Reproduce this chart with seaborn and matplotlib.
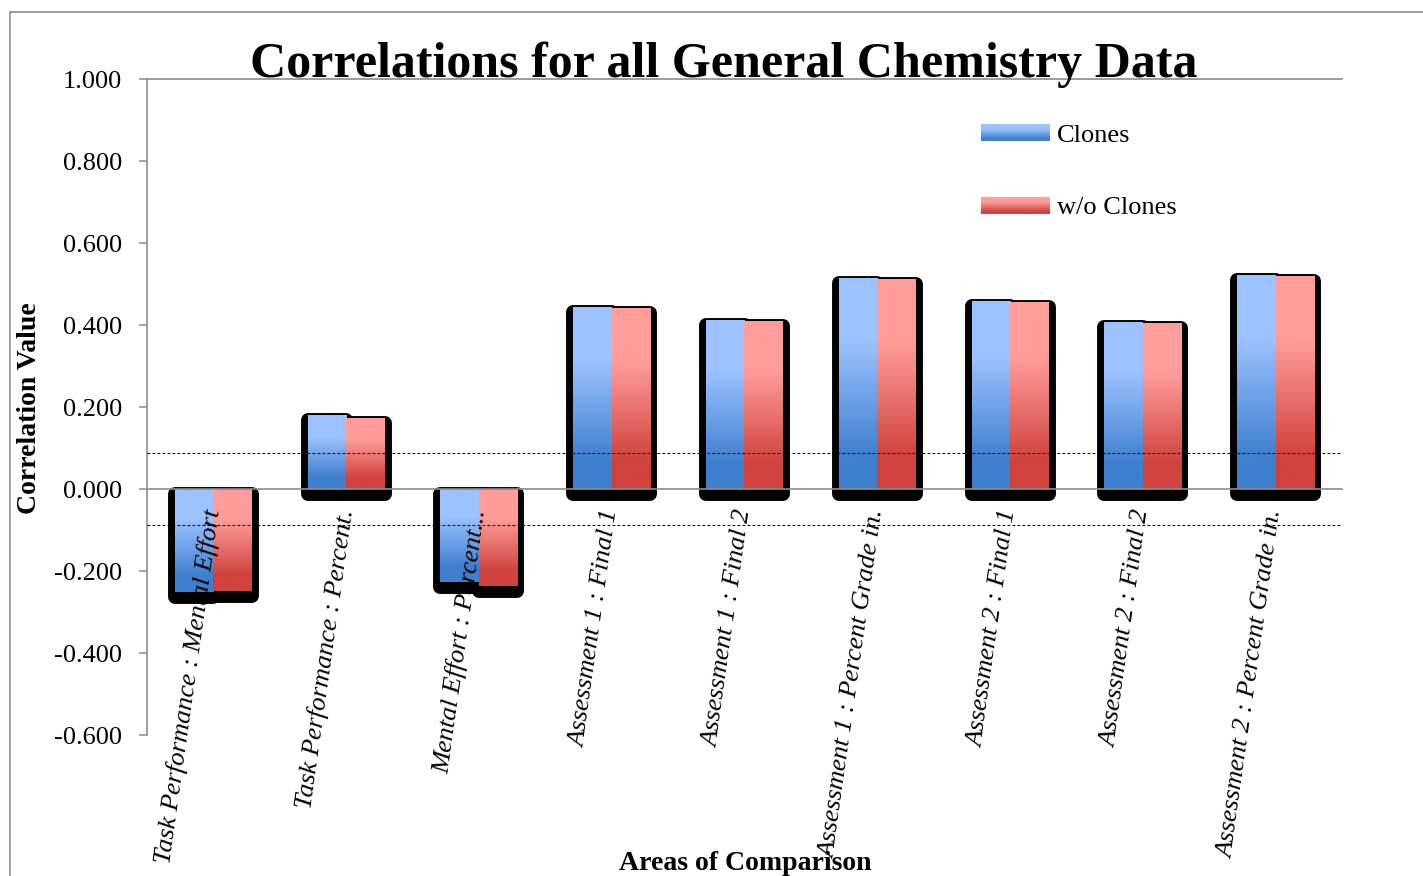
import numpy as np
import pandas as pd
import seaborn as sns
import matplotlib.pyplot as plt
from matplotlib.patches import Rectangle, Patch
from matplotlib.colors import LinearSegmentedColormap
from matplotlib.ticker import FormatStrFormatter
from matplotlib.transforms import offset_copy

# data
categories = [
    "Task Performance : Mental Effort",
    "Task Performance : Percent.",
    "Mental Effort : Percent...",
    "Assessment 1 : Final 1",
    "Assessment 1 : Final 2",
    "Assessment 1 : Percent Grade in.",
    "Assessment 2 : Final 1",
    "Assessment 2 : Final 2",
    "Assessment 2 : Percent Grade in.",
]
clones = [-0.251, 0.180, -0.228, 0.445, 0.412, 0.515, 0.459, 0.407, 0.522]
without_clones = [-0.249, 0.173, -0.236, 0.442, 0.410, 0.512, 0.457, 0.404, 0.520]
series = ["Clones", "w/o Clones"]
threshold = 0.088
yticks = [-0.6, -0.4, -0.2, 0.0, 0.2, 0.4, 0.6, 0.8, 1.0]

df = pd.DataFrame({
    "area": categories * 2,
    "series": [series[0]] * len(categories) + [series[1]] * len(categories),
    "value": clones + without_clones,
})

sns.set_theme(style="white")
plt.rcParams["font.family"] = ["Liberation Serif", "DejaVu Serif"]
plt.rcParams["axes.unicode_minus"] = False
plt.rcParams["text.color"] = "black"
plt.rcParams["xtick.color"] = "black"
plt.rcParams["ytick.color"] = "black"

W, H = 1423, 876
fig = plt.figure(figsize=(W / 100, H / 100), dpi=100)
ax = fig.add_axes([147 / W, 1 - 735 / H, (1342 - 147) / W, (735 - 79) / H])

gradients = {
    "Clones": ("#3e7fce", "#9cc2ff"),
    "w/o Clones": ("#d0423d", "#ff9d9b"),
}
palette = {"Clones": "#6a9fe8", "w/o Clones": "#e87470"}
cmaps = {
    name: LinearSegmentedColormap.from_list(
        name, [(0, dark), (0.15, dark), (0.7, light), (1, light)])
    for name, (dark, light) in gradients.items()
}

sns.barplot(data=df, x="area", y="value", hue="series", palette=palette,
            width=0.58, gap=0, errorbar=None, saturation=1, legend=False,
            linewidth=0, ax=ax)

# gradient fill + black drop shadow for each bar
grad = np.linspace(0, 1, 256).reshape(-1, 1)
shadow_tr = offset_copy(ax.transData, fig=fig, x=0, y=-5, units="dots")
for container, name in zip(ax.containers, series):
    for bar in container:
        x, w = bar.get_x(), bar.get_width()
        y0 = min(bar.get_y(), bar.get_y() + bar.get_height())
        y1 = max(bar.get_y(), bar.get_y() + bar.get_height())
        shadow = Rectangle((x, y0), w, y1 - y0, facecolor="black",
                           edgecolor="black", lw=10, joinstyle="round",
                           transform=shadow_tr, zorder=0.8)
        ax.add_patch(shadow)
        img = ax.imshow(grad, cmap=cmaps[name], extent=[x, x + w, y0, y1],
                        origin="lower", aspect="auto", zorder=1.01,
                        interpolation="bilinear")
        img.set_clip_path(bar)

ax.axhline(threshold, color="black", ls=(0, (2.5, 2)), lw=0.8, zorder=3)
ax.axhline(-threshold, color="black", ls=(0, (2.5, 2)), lw=0.8, zorder=3)

# spine position first: moving it resets the ticks
for side in ["top", "left", "bottom"]:
    ax.spines[side].set_color("#8c8c8c")
    ax.spines[side].set_linewidth(1.2)
ax.spines["right"].set_visible(False)
ax.spines["bottom"].set_position(("data", 0))
ax.set_axisbelow(False)

ax.set_xlim(-0.5, len(categories) - 0.5)
ax.set_ylim(-0.6, 1.0)
ax.set_yticks(yticks)
ax.yaxis.set_major_formatter(FormatStrFormatter("%.3f"))
ax.tick_params(axis="y", direction="out", length=6, width=1.1,
               color="#8c8c8c", labelcolor="black", labelsize=19, pad=12,
               left=True)
ax.set_xticks(range(len(categories)))
ax.set_xticklabels(categories, rotation=82, ha="right", va="center",
                   rotation_mode="anchor", fontstyle="italic", fontsize=19,
                   color="black")
ax.tick_params(axis="x", length=0, pad=15)
ax.set_xlabel("")
ax.set_ylabel("")

handles = [Patch(facecolor=palette[s], edgecolor="none") for s in series]
leg = ax.legend(handles, series, loc="upper left",
                bbox_to_anchor=(981 / W, 1 - 124 / H),
                bbox_transform=fig.transFigure, frameon=False, fontsize=19,
                handlelength=2.58, handleheight=0.6, labelspacing=1.9,
                handletextpad=0.3, borderpad=0, borderaxespad=0)

fig.text(724 / W, 1 - 65 / H, "Correlations for all General Chemistry Data",
         ha="center", va="center", fontsize=36, fontweight="bold")
fig.text(30 / W, 1 - 408 / H, "Correlation Value", rotation=90,
         ha="center", va="center", fontsize=20, fontweight="bold")
fig.text(745 / W, 1 - 864 / H, "Areas of Comparison",
         ha="center", va="center", fontsize=20, fontweight="bold")

# outer chart border
fig.add_artist(Rectangle((10 / W, -0.05), 1.1, 1 - 12 / H + 0.05,
                         transform=fig.transFigure, fill=False,
                         edgecolor="#8c8c8c", lw=1.2))

# paint the gradient over the legend swatches too
fig.canvas.draw()
for handle, name in zip(leg.legend_handles, series):
    bb = handle.get_window_extent().transformed(fig.transFigure.inverted())
    hax = fig.add_axes([bb.x0, bb.y0, bb.width, bb.height])
    hax.imshow(grad, cmap=cmaps[name], origin="lower", aspect="auto",
               interpolation="bilinear")
    hax.set_axis_off()

fig.savefig("out.png", dpi=100)
